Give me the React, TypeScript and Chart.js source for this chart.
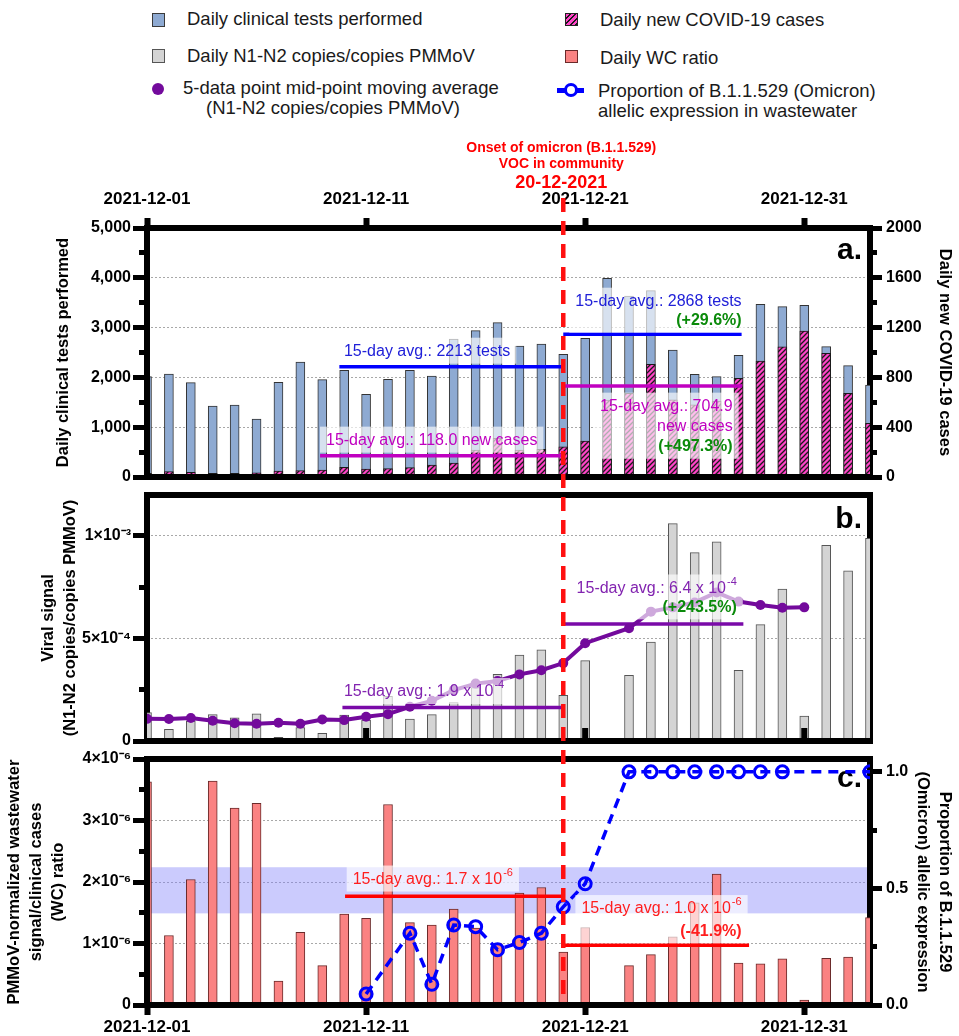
import React, { useEffect, useRef } from 'react';
import { Chart, registerables } from 'chart.js';

Chart.register(...registerables);

const FAMILY = '"Liberation Sans", Arial, Helvetica, sans-serif';

// ---------------- data ----------------
const dates = [
  '2021-12-01', '2021-12-02', '2021-12-03', '2021-12-04', '2021-12-05', '2021-12-06', '2021-12-07',
  '2021-12-08', '2021-12-09', '2021-12-10', '2021-12-11', '2021-12-12', '2021-12-13', '2021-12-14',
  '2021-12-15', '2021-12-16', '2021-12-17', '2021-12-18', '2021-12-19', '2021-12-20', '2021-12-21',
  '2021-12-22', '2021-12-23', '2021-12-24', '2021-12-25', '2021-12-26', '2021-12-27', '2021-12-28',
  '2021-12-29', '2021-12-30', '2021-12-31', '2022-01-01', '2022-01-02', '2022-01-03',
];

const dailyTests = [
  2014, 2068, 1894, 1426, 1446, 1165, 1901, 2309, 1954, 2142,
  1660, 1961, 2142, 2028, 2771, 2938, 3099, 2631, 2671, 2464,
  2785, 3990, 3635, 3741, 2550, 2062, 2014, 2443, 3467, 3420,
  3447, 2617, 2236, 1847,
];

const dailyCases = [
  30, 43, 37, 30, 30, 33, 48, 51, 56, 78,
  64, 67, 75, 96, 112, 217, 310, 217, 222, 243,
  289, 618, 672, 905, 620, 580, 610, 792, 931, 1046,
  1172, 993, 672, 431,
];

const viralSignal = [
  1.39e-4, 0.57e-4, 0.97e-4, 1.29e-4, 1.13e-4, 1.33e-4, 0.18e-4, 0.66e-4, 0.37e-4, 1.26e-4,
  1.02e-4, 2.18e-4, 1.07e-4, 1.29e-4, 1.88e-4, 2.6e-4, 3.25e-4, 4.19e-4, 4.45e-4, 2.23e-4,
  3.92e-4, null, 3.2e-4, 4.82e-4, 1.06e-3, 9.19e-4, 9.71e-4, 3.45e-4, 5.68e-4, 7.41e-4,
  1.21e-4, 9.55e-4, 8.3e-4, 9.89e-4,
];

const movingAvg = [
  1.08e-4, 1.07e-4, 1.12e-4, 0.99e-4, 0.87e-4, 0.84e-4, 0.89e-4, 0.84e-4, 1.05e-4, 1.02e-4,
  1.18e-4, 1.31e-4, 1.67e-4, 1.96e-4, 2.48e-4, 2.8e-4, 2.93e-4, 3.25e-4, 3.45e-4, 3.8e-4,
  4.77e-4, null, 5.5e-4, 6.31e-4, 6.52e-4, 6.76e-4, 7.25e-4, 6.8e-4, 6.63e-4, 6.5e-4,
  6.52e-4, null, null, null,
];

const wcRatio = [
  3.63e-6, 1.13e-6, 2.04e-6, 3.64e-6, 3.2e-6, 3.28e-6, 0.39e-6, 1.18e-6, 0.64e-6, 1.48e-6,
  1.41e-6, 3.26e-6, 1.34e-6, 1.3e-6, 1.56e-6, 1.25e-6, 1.0e-6, 1.82e-6, 1.91e-6, 0.86e-6,
  1.26e-6, null, 0.64e-6, 0.82e-6, 1.11e-6, 1.66e-6, 2.13e-6, 0.68e-6, 0.67e-6, 0.75e-6,
  0.08e-6, 0.76e-6, 0.78e-6, 1.42e-6,
];

const omicronProp = [
  null, null, null, null, null, null, null, null, null, null,
  0.047, null, 0.308, 0.089, 0.343, 0.336, 0.237, 0.268, 0.308, 0.421,
  0.52, null, 1, 1, 1, 1, 1, 1, 1, 1,
  null, null, null, 1,
];

// 15-day average segments: [startDay, endDay, value]
const testsAvg = [[8.78, 19, 2213], [19, 27.14, 2868]];
const casesAvg = [[7.9, 19, 170], [19, 27.16, 730]];
const viralAvg = [[8.92, 19, 1.64e-4], [19, 27.22, 5.71e-4]];
const wcAvg = [[9.04, 19, 1.77e-6], [19, 27.48, 0.97e-6]];
const wcBand = [1.49e-6, 2.24e-6];
const onsetDay = 19;

// tick labels
const testsTicks: [number, string][] = [[0, '0'], [1000, '1,000'], [2000, '2,000'], [3000, '3,000'], [4000, '4,000'], [5000, '5,000']];
const casesTicks: [number, string][] = [[0, '0'], [400, '400'], [800, '800'], [1200, '1200'], [1600, '1600'], [2000, '2000']];
const viralTicks: [number, string][] = [[0, '0'], [5e-4, '5×10⁻⁴'], [1e-3, '1×10⁻³']];
const wcTicks: [number, string][] = [[0, '0'], [1e-6, '1×10⁻⁶'], [2e-6, '2×10⁻⁶'], [3e-6, '3×10⁻⁶'], [4e-6, '4×10⁻⁶']];
const omicronTicks: [number, string][] = [[0, '0.0'], [0.5, '0.5'], [1, '1.0']];

// ---------------- layout constants ----------------
const W = 959;
const H = 1036;
const A_TOP = 130, A_H = 360;
const B_TOP = 490, B_H = 260;
const C_TOP = 750, C_H = 286;
const DASH_START = 198;
const DASH = [14, 9];

const C_BLUE = '#8eaad2';
const C_GRAY = '#d4d4d4';
const C_WC = '#fa8282';
const C_PURPLE = '#730a9c';
const C_MAG = '#c000c0';
const C_GREEN = '#0a8a0a';
const C_RED = '#ff1e1e';

function findLabel(pairs: [number, string][], v: number) {
  if (v === undefined || v === null) return undefined;
  return pairs.find((p) => Math.abs(p[0] - v) <= Math.abs(p[0]) * 1e-6 + 1e-13);
}

function zeroPads(s: any) {
  s.paddingTop = 0; s.paddingBottom = 0; s.paddingLeft = 0; s.paddingRight = 0;
}

function yAxis(o: any) {
  const left = o.position === 'left';
  return {
    type: 'linear',
    position: o.position,
    min: o.min,
    max: o.max,
    afterFit: (s: any) => { s.width = o.width; zeroPads(s); },
    ticks: {
      stepSize: o.step,
      includeBounds: false,
      autoSkip: false,
      padding: left ? 2 : 4,
      color: '#000',
      font: { family: FAMILY, size: 16, weight: 'bold' },
      callback: (v: number) => { const p = findLabel(o.labels, v); return p ? p[1] : ''; },
    },
    grid: {
      drawOnChartArea: !!o.grid,
      color: (c: any) => {
        const v = c.tick ? c.tick.value : NaN;
        return findLabel(o.labels, v) && Math.abs(v - o.min) > 1e-15 && Math.abs(v - o.max) > 1e-15 ? '#a8a8a8' : 'rgba(0,0,0,0)';
      },
      lineWidth: 1,
      tickLength: o.tl,
      tickWidth: 5,
      tickColor: '#000',
      tickBorderDash: (c: any) => {
        const v = c.tick ? c.tick.value : NaN;
        if (findLabel(o.labels, v)) return [];
        return left ? [0, o.tl - o.minor, o.minor, 0] : [o.minor, 60];
      },
    },
    border: { display: false, dash: [2, 2] },
    title: {
      display: true,
      text: o.title,
      color: '#000',
      font: { family: FAMILY, size: 16.5, weight: 'bold', lineHeight: 1.35 },
      padding: { top: o.titlePad, bottom: 0 },
    },
  };
}

function xAxis(o: any) {
  return {
    type: 'linear',
    position: o.position,
    display: o.display,
    min: 0,
    max: dates.length - 1,
    offset: false,
    afterFit: (s: any) => { s.height = o.height; zeroPads(s); },
    ticks: {
      stepSize: 10,
      includeBounds: false,
      autoSkip: false,
      maxRotation: 0,
      minRotation: 0,
      padding: o.pad,
      color: '#000',
      font: { family: FAMILY, size: 17, weight: 'bold' },
      callback: (v: number) => dates[v] ?? '',
    },
    grid: { drawOnChartArea: false, offset: false, tickLength: 10, tickWidth: 6, tickColor: '#000' },
    border: { display: false },
  };
}

function avgDatasets(spans: number[][], color: string, axis: string, width: number, order: number) {
  return spans.map(([s, e, v]) => ({
    type: 'line',
    data: [{ x: s, y: v }, { x: e, y: v }],
    yAxisID: axis,
    borderColor: color,
    borderWidth: width,
    pointRadius: 0,
    fill: false,
    order,
  }));
}

function richWidth(ctx: any, t: string, bold: boolean) {
  const [m, s] = t.split('^');
  ctx.font = `${bold ? 'bold ' : ''}16px ${FAMILY}`;
  let w = ctx.measureText(m).width;
  if (s) { ctx.font = `${bold ? 'bold ' : ''}11px ${FAMILY}`; w += ctx.measureText(s).width + 1; }
  return w;
}

function drawRich(ctx: any, t: string, x: number, y: number, color: string, bold: boolean) {
  const [m, s] = t.split('^');
  ctx.fillStyle = color;
  ctx.textAlign = 'left';
  ctx.textBaseline = 'middle';
  ctx.font = `${bold ? 'bold ' : ''}16px ${FAMILY}`;
  ctx.fillText(m, x, y);
  if (s) {
    const w = ctx.measureText(m).width;
    ctx.font = `${bold ? 'bold ' : ''}11px ${FAMILY}`;
    ctx.fillText(s, x + w + 1, y - 7);
  }
}

function side(ctx: any, a: any, which: string) {
  const t = 6, h = 3;
  ctx.fillStyle = '#000';
  if (which === 'left') ctx.fillRect(a.left - h, a.top - h, t, a.bottom - a.top + t);
  if (which === 'right') ctx.fillRect(a.right - h, a.top - h, t, a.bottom - a.top + t);
  if (which === 'top') ctx.fillRect(a.left - h, a.top - h, a.right - a.left + t, t);
  if (which === 'bottom') ctx.fillRect(a.left - h, a.bottom - h, a.right - a.left + t, t);
}

function panelPlugin(p: any) {
  return {
    id: p.id,
    beforeDatasetsDraw(chart: any) {
      const { ctx, chartArea: a } = chart;
      ctx.save();
      if (p.band) {
        const ys = chart.scales.y;
        const y1 = ys.getPixelForValue(p.band[1]);
        const y0 = ys.getPixelForValue(p.band[0]);
        ctx.fillStyle = 'rgba(125,125,250,0.4)';
        ctx.fillRect(a.left, y1, a.right - a.left, y0 - y1);
      }
      side(ctx, a, 'right');
      if (!p.leftAfter) side(ctx, a, 'left');
      ctx.fillStyle = '#000';
      ctx.font = `bold 30px ${FAMILY}`;
      ctx.textAlign = 'right';
      ctx.textBaseline = 'alphabetic';
      ctx.fillText(p.letter, a.right - 8, a.top + p.letterY);
      ctx.restore();
    },
    afterDatasetsDraw(chart: any) {
      const { ctx, chartArea: a } = chart;
      ctx.save();
      side(ctx, a, 'top');
      side(ctx, a, 'bottom');
      if (p.leftAfter) side(ctx, a, 'left');
      if (p.inwardTicks) {
        ctx.fillStyle = '#000';
        [10, 20, 30].forEach((d) => {
          const x = chart.scales.x.getPixelForValue(d);
          ctx.fillRect(x - 3, a.bottom - 13, 6, 13);
        });
      }
      (p.notes || []).forEach((n: any) => {
        const ys = chart.scales[n.axis];
        const x = chart.scales.x.getPixelForValue(n.x);
        let minX = Infinity, maxX = -Infinity;
        const rows = n.lines.map((l: any) => {
          const w = richWidth(ctx, l.t, !!l.b);
          const x0 = n.align === 'left' ? x : x - w;
          minX = Math.min(minX, x0);
          maxX = Math.max(maxX, x0 + w);
          return { l, x0, y: ys.getPixelForValue(l.y) };
        });
        const top = Math.min(...rows.map((r: any) => r.y)) - 14;
        const bottom = Math.max(...rows.map((r: any) => r.y)) + 12;
        ctx.fillStyle = 'rgba(255,255,255,0.65)';
        ctx.fillRect(minX - 6, top, maxX - minX + 12, bottom - top);
        rows.forEach((r: any) => drawRich(ctx, r.l.t, r.x0, r.y, r.l.c, !!r.l.b));
      });
      ctx.restore();
    },
    afterDraw(chart: any) {
      const { ctx } = chart;
      const x = chart.scales.x.getPixelForValue(onsetDay);
      ctx.save();
      if (p.onsetText) {
        const xt = x - 2;
        ctx.fillStyle = '#ff0000';
        ctx.textAlign = 'center';
        ctx.textBaseline = 'middle';
        ctx.font = `bold 14px ${FAMILY}`;
        ctx.fillText('Onset of omicron (B.1.1.529)', xt, 147.7 - p.pageTop);
        ctx.fillText('VOC in community', xt, 164.3 - p.pageTop);
        ctx.font = `bold 18px ${FAMILY}`;
        ctx.fillText('20-12-2021', xt, 182.7 - p.pageTop);
      }
      const y0 = p.dashFrom - p.pageTop;
      const y1 = p.dashTo - p.pageTop;
      const period = DASH[0] + DASH[1];
      ctx.strokeStyle = '#ff1010';
      ctx.lineWidth = 4.5;
      ctx.setLineDash(DASH);
      ctx.lineDashOffset = ((p.dashFrom - DASH_START) % period + period) % period;
      ctx.beginPath();
      ctx.moveTo(x, y0);
      ctx.lineTo(x, y1);
      ctx.stroke();
      ctx.restore();
    },
  };
}

function makeHatch(): any {
  const s = 5;
  const c = document.createElement('canvas');
  c.width = s; c.height = s;
  const g = c.getContext('2d')!;
  g.fillStyle = '#ff45c8';
  g.fillRect(0, 0, s, s);
  g.strokeStyle = '#1a1a1a';
  g.lineWidth = 1.3;
  g.beginPath();
  g.moveTo(0, s); g.lineTo(s, 0);
  g.moveTo(-1, 1); g.lineTo(1, -1);
  g.moveTo(s - 1, s + 1); g.lineTo(s + 1, s - 1);
  g.stroke();
  return g.createPattern(c, 'repeat');
}

const pts = (arr: (number | null)[]) => arr.map((v, i) => ({ x: i, y: v }));

const baseOptions = (padding: any) => ({
  animation: false,
  responsive: false,
  events: [],
  layout: { padding },
  plugins: { legend: { display: false }, tooltip: { enabled: false } },
});

function buildA(): any {
  return {
    type: 'bar',
    data: {
      datasets: [
        ...avgDatasets(testsAvg, '#0000ff', 'y', 3.5, 1),
        ...avgDatasets(casesAvg, C_MAG, 'y2', 3.5, 1),
        {
          type: 'bar', data: pts(dailyCases), yAxisID: 'y2', backgroundColor: makeHatch(),
          borderColor: '#1a1a1a', borderWidth: 1, borderSkipped: false, barThickness: 9, grouped: false, order: 2,
        },
        {
          type: 'bar', data: pts(dailyTests), yAxisID: 'y', backgroundColor: C_BLUE,
          borderColor: '#333', borderWidth: 1, borderSkipped: false, barThickness: 9, grouped: false, order: 3,
        },
      ],
    },
    options: {
      ...baseOptions({ left: 0, right: 0, top: 0, bottom: 13 }),
      scales: {
        x: xAxis({ position: 'top', display: true, height: 98, pad: 8 }),
        y: yAxis({ position: 'left', min: 0, max: 5000, step: 500, labels: testsTicks, width: 147, tl: 14, minor: 8, grid: true, title: 'Daily clinical tests performed', titlePad: 52 }),
        y2: yAxis({ position: 'right', min: 0, max: 2000, step: 200, labels: casesTicks, width: 89, tl: 12, minor: 7, grid: false, title: 'Daily new COVID-19 cases', titlePad: 3 }),
      },
    },
    plugins: [panelPlugin({
      id: 'pa', pageTop: A_TOP, letter: 'a.', letterY: 31, leftAfter: true, onsetText: true,
      dashFrom: DASH_START, dashTo: A_TOP + A_H,
      notes: [
        { x: 8.99, align: 'left', axis: 'y', lines: [{ t: '15-day avg.: 2213 tests', c: '#2020d8', y: 2516 }] },
        { x: 8.17, align: 'left', axis: 'y2', lines: [{ t: '15-day avg.: 118.0 new cases', c: C_MAG, y: 292 }] },
        { x: 27.14, align: 'right', axis: 'y', lines: [
          { t: '15-day avg.: 2868 tests', c: '#2020d8', y: 3520 },
          { t: '(+29.6%)', c: C_GREEN, b: true, y: 3139 }] },
        { x: 26.73, align: 'right', axis: 'y2', lines: [
          { t: '15-day avg.: 704.9', c: C_MAG, y: 565 },
          { t: 'new cases', c: C_MAG, y: 404 },
          { t: '(+497.3%)', c: C_GREEN, b: true, y: 243 }] },
      ],
    })],
  };
}

function buildB(): any {
  return {
    type: 'bar',
    data: {
      datasets: [
        {
          type: 'line', data: pts(movingAvg), yAxisID: 'y', borderColor: C_PURPLE, borderWidth: 4,
          pointRadius: 5, pointBackgroundColor: C_PURPLE, pointBorderWidth: 0, spanGaps: true, fill: false, order: 1,
        },
        ...avgDatasets(viralAvg, '#7a0aa8', 'y', 3.5, 2),
        {
          type: 'bar', data: pts(viralSignal), yAxisID: 'y', backgroundColor: C_GRAY,
          borderColor: '#555', borderWidth: 1, borderSkipped: false, barThickness: 9, grouped: false, order: 3,
        },
      ],
    },
    options: {
      ...baseOptions({ left: 0, right: 89, top: 4, bottom: 9 }),
      scales: {
        x: xAxis({ position: 'bottom', display: false, height: 0, pad: 0 }),
        y: yAxis({ position: 'left', min: 0, max: 1.2e-3, step: 2.5e-4, labels: viralTicks, width: 147, tl: 14, minor: 8, grid: true, title: ['Viral signal', '(N1-N2 copies/copies PMMoV)'], titlePad: 37 }),
      },
    },
    plugins: [panelPlugin({
      id: 'pb', pageTop: B_TOP, letter: 'b.', letterY: 33, leftAfter: false, inwardTicks: true,
      dashFrom: B_TOP, dashTo: B_TOP + B_H,
      notes: [
        { x: 8.99, align: 'left', axis: 'y', lines: [{ t: '15-day avg.: 1.9 x 10^-4', c: '#8224b0', y: 2.39e-4 }] },
        { x: 26.92, align: 'right', axis: 'y', lines: [
          { t: '15-day avg.: 6.4 x 10^-4', c: '#8224b0', y: 7.44e-4 },
          { t: '(+243.5%)', c: C_GREEN, b: true, y: 6.52e-4 }] },
      ],
    })],
  };
}

function buildC(): any {
  return {
    type: 'bar',
    data: {
      datasets: [
        {
          type: 'line', data: pts(omicronProp), yAxisID: 'y2', borderColor: '#0000ff', borderWidth: 3.5,
          borderDash: [10, 7], pointRadius: 6, pointBorderWidth: 3, pointBorderColor: '#0000ff',
          pointBackgroundColor: 'rgba(0,0,0,0)', spanGaps: true, fill: false, order: 1,
        },
        ...avgDatasets(wcAvg, '#ff0000', 'y', 3.5, 2),
        {
          type: 'bar', data: pts(wcRatio), yAxisID: 'y', backgroundColor: C_WC,
          borderColor: '#6a2a2a', borderWidth: 1, borderSkipped: false, barThickness: 9, grouped: false, order: 3,
        },
      ],
    },
    options: {
      ...baseOptions({ left: 0, right: 0, top: 7, bottom: 0 }),
      scales: {
        x: xAxis({ position: 'bottom', display: true, height: 31, pad: 2 }),
        y: yAxis({ position: 'left', min: 0, max: 4e-6, step: 5e-7, labels: wcTicks, width: 147, tl: 14, minor: 8, grid: true, title: ['PMMoV-normalized wastewater', 'signal/clinical cases', '(WC) ratio'], titlePad: 3 }),
        y2: yAxis({ position: 'right', min: 0, max: 1.055, step: 0.25, labels: omicronTicks, width: 89, tl: 12, minor: 7, grid: false, title: ['Proportion of B.1.1.529', '(Omicron) allelic expression'], titlePad: 3 }),
      },
    },
    plugins: [panelPlugin({
      id: 'pc', pageTop: C_TOP, letter: 'c.', letterY: 28, leftAfter: true, band: wcBand,
      dashFrom: C_TOP, dashTo: 998,
      notes: [
        { x: 9.39, align: 'left', axis: 'y', lines: [{ t: '15-day avg.: 1.7 x 10^-6', c: C_RED, y: 2.04e-6 }] },
        { x: 27.14, align: 'right', axis: 'y', lines: [
          { t: '15-day avg.: 1.0 x 10^-6', c: C_RED, y: 1.56e-6 },
          { t: '(-41.9%)', c: C_RED, b: true, y: 1.2e-6 }] },
      ],
    })],
  };
}

const txt = (text: string, left: number, top: number) => (
  <div style={{ position: 'absolute', left, top, fontSize: 18.5, lineHeight: '20px', color: '#1a1a1a', whiteSpace: 'nowrap' }}>{text}</div>
);

const sq = (left: number, top: number, w: number, h: number, bg: string, border: string) => (
  <div style={{ position: 'absolute', left, top, width: w, height: h, background: bg, border: `1px solid ${border}`, boxSizing: 'border-box' }} />
);

export default function App() {
  const aRef = useRef<HTMLCanvasElement>(null);
  const bRef = useRef<HTMLCanvasElement>(null);
  const cRef = useRef<HTMLCanvasElement>(null);

  useEffect(() => {
    const charts = [
      new Chart(aRef.current as any, buildA()),
      new Chart(bRef.current as any, buildB()),
      new Chart(cRef.current as any, buildC()),
    ];
    return () => charts.forEach((c) => c.destroy());
  }, []);

  const cv = (top: number, h: number) => ({ position: 'absolute' as const, left: 0, top, width: W, height: h });

  return (
    <div style={{ position: 'absolute', left: 0, top: 0, width: W, height: H, background: '#fff', fontFamily: FAMILY, overflow: 'hidden' }}>
      {sq(152, 13, 13, 14, C_BLUE, '#3a3a3a')}
      {txt('Daily clinical tests performed', 187, 9)}
      {sq(152, 49, 13, 14, C_GRAY, '#555')}
      {txt('Daily N1-N2 copies/copies PMMoV', 187, 46)}
      <div style={{ position: 'absolute', left: 151.5, top: 82.8, width: 12, height: 12, borderRadius: '50%', background: C_PURPLE }} />
      {txt('5-data point mid-point moving average', 183, 77.6)}
      {txt('(N1-N2 copies/copies PMMoV)', 206, 97.7)}

      <div style={{ position: 'absolute', left: 565, top: 13, width: 13, height: 13, boxSizing: 'border-box', border: '1px solid #222',
        background: 'repeating-linear-gradient(135deg, #ff45c8 0px, #ff45c8 2.4px, #1a1a1a 2.4px, #1a1a1a 3.8px)' }} />
      {txt('Daily new COVID-19 cases', 600, 10)}
      {sq(565, 50, 13, 13, C_WC, '#6a2a2a')}
      {txt('Daily WC ratio', 600, 48)}
      <div style={{ position: 'absolute', left: 557, top: 88, width: 27, height: 4.5, background: '#0000ff' }} />
      <div style={{ position: 'absolute', left: 563.7, top: 83.3, width: 14, height: 14, borderRadius: '50%', border: '3.5px solid #0000ff', background: '#fff', boxSizing: 'border-box' }} />
      {txt('Proportion of B.1.1.529 (Omicron)', 598, 80.5)}
      {txt('allelic expression in wastewater', 598, 100.5)}

      <canvas ref={aRef} width={W} height={A_H} style={cv(A_TOP, A_H)} />
      <canvas ref={bRef} width={W} height={B_H} style={cv(B_TOP, B_H)} />
      <canvas ref={cRef} width={W} height={C_H} style={cv(C_TOP, C_H)} />
    </div>
  );
}
